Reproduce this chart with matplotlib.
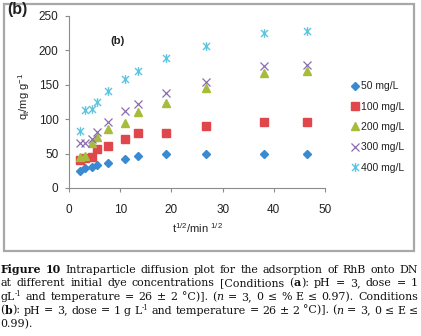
import matplotlib
matplotlib.use("Agg")
import matplotlib.pyplot as plt
from matplotlib.path import Path
from matplotlib.patches import Rectangle
from matplotlib.font_manager import FontProperties
from matplotlib.transforms import IdentityTransform

# ---------------- data ----------------
sqrt_t = [2.2, 3.2, 4.5, 5.5, 7.7, 11.0, 13.4, 19.0, 26.8, 38.0, 46.5]
q50 = [25, 28.5, 31, 33.5, 37, 42, 46, 49.5, 49.5, 49.5, 50]
q100 = [40.5, 44, 45.5, 56, 61.5, 70.5, 80, 80.5, 90, 96.5, 96.5]
q200 = [44.5, 47, 65, 73.5, 86, 94, 110, 123, 145, 167.5, 170]
q300 = [65, 66, 70.5, 82, 96.5, 112.5, 122, 138.5, 154.5, 177, 179]
q400 = [83, 113, 114.5, 124.5, 141, 158, 170.5, 189, 206, 226, 228]
series_labels = ["50 mg/L", "100 mg/L", "200 mg/L", "300 mg/L", "400 mg/L"]
x_ticks = [0, 10, 20, 30, 40, 50]
y_ticks = [0, 50, 100, 150, 200, 250]

W, H = 421, 336
fig = plt.figure(figsize=(W / 100, H / 100), dpi=100)
fig.patch.set_facecolor("white")
sans = "Liberation Sans"

# chart frame
fig.add_artist(Rectangle((3.5 / W, 1 - 251 / H), (413.5 - 3.5) / W, (251 - 4) / H,
                         transform=fig.transFigure, facecolor="white",
                         edgecolor="#a8a8a8", lw=1.6, zorder=0))

ax = fig.add_axes([69 / W, 1 - 188 / H, (325 - 69) / W, (188 - 16) / H])
ax.set_facecolor("none")

star = Path([(-1, -1), (1, 1), (-1, 1), (1, -1), (0, -1.25), (0, 1.25)],
            [Path.MOVETO, Path.LINETO] * 3)

styles = [
    dict(marker="D", color="#3a8ad2", ms=4.5, mfc="#3a8ad2", mec="#3a8ad2"),
    dict(marker="s", color="#e0474c", ms=5.5, mfc="#e0474c", mec="#e0474c"),
    dict(marker="^", color="#a6bc3a", ms=6.0, mfc="#a6bc3a", mec="#a6bc3a"),
    dict(marker="x", color="#8a6cb0", ms=6.0, mfc="none", mec="#8a6cb0", mew=0.9),
    dict(marker=star, color="#5cc6e0", ms=6.3, mfc="none", mec="#5cc6e0", mew=1.0),
]
for ys, lab, st in zip([q50, q100, q200, q300, q400], series_labels, styles):
    ax.plot(sqrt_t, ys, linestyle="none", label=lab, **st)

ax.set_xlim(0, 50)
ax.set_ylim(0, 250)
ax.set_xticks(x_ticks)
ax.set_yticks(y_ticks)
for s in ["top", "right"]:
    ax.spines[s].set_visible(False)
for s in ["left", "bottom"]:
    ax.spines[s].set_color("#8c8c8c")
    ax.spines[s].set_linewidth(0.8)
ax.tick_params(direction="out", length=3, width=0.8, color="#8c8c8c",
               labelsize=8.5, labelcolor="#222222")
ax.tick_params(axis="x", pad=8.5)
ax.tick_params(axis="y", pad=4.5)
for lab in ax.get_xticklabels() + ax.get_yticklabels():
    lab.set_family(sans)

ax.set_xlabel(r"t$^\mathregular{1/2}$/min $^\mathregular{1/2}$", fontsize=8,
              family=sans, color="#222222")
ax.xaxis.set_label_coords(0.5, -0.195)
ax.set_ylabel(r"q$_\mathregular{t}$/mg g$^\mathregular{-1}$", fontsize=8,
              family=sans, color="#222222")
ax.yaxis.set_label_coords(-0.145, 0.53)

ax.text(0.16, 0.84, "(b)", transform=ax.transAxes, fontsize=8.2,
        fontweight="bold", family=sans, color="#222222")
fig.text(7 / W, 1 - 2 / H, "(b)", fontsize=11.5, fontweight="bold", family=sans,
         color="#222222", va="top", ha="left")

leg = fig.legend(loc="center left", bbox_to_anchor=(346 / W, 1 - 127 / H),
                 frameon=False, fontsize=7.5, handlelength=0.7,
                 handletextpad=0.25, labelspacing=1.0, borderpad=0)
for t in leg.get_texts():
    t.set_family(sans)
    t.set_color("#222222")

# ---------------- caption (justified) ----------------
cap_family = "DejaVu Serif"
caption_lines = [
    ([[("Figure", "b")], [("10", "b")], "Intraparticle", "diffusion", "plot", "for",
      "the", "adsorption", "of", "RhB", "onto", "DN"], True),
    (["at", "different", "initial", "dye", "concentrations", "[Conditions",
      [("(", "n"), ("a", "b"), ("):", "n")], "pH", "=", "3,", "dose", "=", "1"], True),
    ([[("gL", "n"), ("-1", "s")], "and", "temperature", "=", "26", "±", "2", "°C)].",
      [("(", "n"), ("n", "i")], "=", "3,", "0", "≤", "%", "E", "≤", "0.97).",
      "Conditions"], True),
    ([[("(", "n"), ("b", "b"), ("):", "n")], "pH", "=", "3,", "dose", "=", "1", "g",
      [("L", "n"), ("-1", "s")], "and", "temperature", "=", "26", "±", "2", "°C)].",
      [("(", "n"), ("n", "i")], "=", "3,", "0", "≤", "E", "≤"], True),
    (["0.99)."], False),
]
baselines = [273, 286.5, 300, 313.5, 327]
left_px, right_px = 0.5, 418

renderer = fig.canvas.get_renderer()


def make_fps(size):
    return {
        "n": FontProperties(family=cap_family, size=size),
        "b": FontProperties(family=cap_family, size=size, weight="bold"),
        "i": FontProperties(family=cap_family, size=size, style="italic"),
        "s": FontProperties(family=cap_family, size=size * 0.62),
    }


def measure(txt, fp):
    t = fig.text(0, 0, txt, fontproperties=fp, transform=IdentityTransform())
    w = t.get_window_extent(renderer).width
    t.remove()
    return w


def word_runs(w):
    return [(w, "n")] if isinstance(w, str) else w


# fit font size so that first line with natural spacing spans the width
ref_fps = make_fps(10)
sp10 = measure("a a", ref_fps["n"]) - measure("aa", ref_fps["n"])
w10 = sum(measure(r, ref_fps[k]) for w in caption_lines[0][0] for r, k in word_runs(w))
w10 += sp10 * (len(caption_lines[0][0]) - 1)
cap_fs = 10 * (right_px - left_px) / w10 * 0.97
fps = make_fps(cap_fs)
space_w = measure("a a", fps["n"]) - measure("aa", fps["n"])

for (words, justify), yb in zip(caption_lines, baselines):
    runs_list = []
    widths = []
    for w in words:
        runs = word_runs(w)
        ws = [measure(r, fps[k]) for r, k in runs]
        runs_list.append((runs, ws))
        widths.append(sum(ws))
    if justify and len(words) > 1:
        gap = (right_px - left_px - sum(widths)) / (len(words) - 1)
    else:
        gap = space_w
    x = left_px
    ydisp = H - yb
    for (runs, ws), tw in zip(runs_list, widths):
        xx = x
        for (r, k), rw in zip(runs, ws):
            dy = 0.45 * cap_fs if k == "s" else 0
            fig.text(xx, ydisp + dy, r, fontproperties=fps[k], ha="left",
                     va="baseline", transform=IdentityTransform(), color="#111111")
            xx += rw
        x += tw + gap

fig.savefig("out.png", dpi=100)
